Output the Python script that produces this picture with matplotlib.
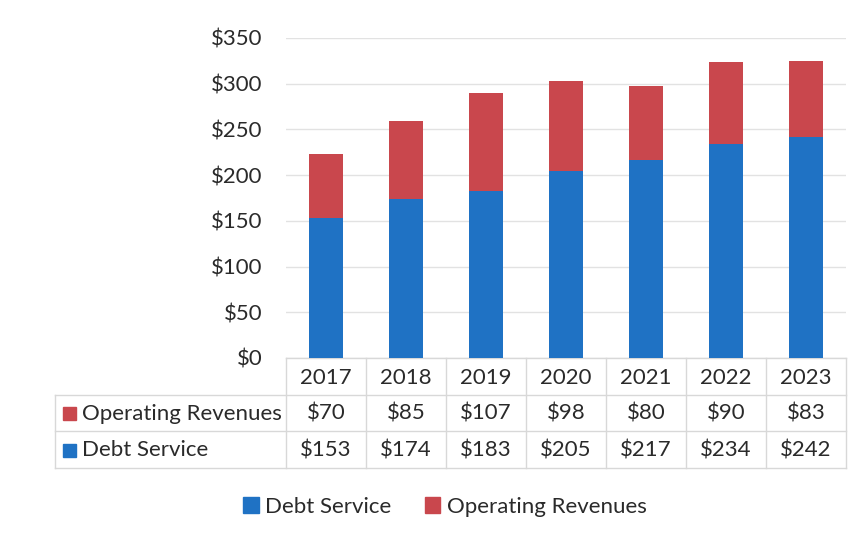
import matplotlib
matplotlib.use("Agg")
import matplotlib.pyplot as plt
from matplotlib.patches import Patch, Rectangle
import numpy as np

plt.rcParams['font.family'] = ['Lato', 'DejaVu Sans']

years = ['2017', '2018', '2019', '2020', '2021', '2022', '2023']
debt_service = [153, 174, 183, 205, 217, 234, 242]
operating_revenues = [70, 85, 107, 98, 80, 90, 83]
yticks = [0, 50, 100, 150, 200, 250, 300, 350]

blue = '#1f72c4'
red = '#c9474d'
grid_col = '#e2e2e2'
text_col = '#2a2a2a'
fs = 16

W, H = 862, 540
fig = plt.figure(figsize=(W / 100, H / 100), dpi=100)
left, right, top, bottom = 286, 846, 38, 358
ax = fig.add_axes([left / W, 1 - bottom / H, (right - left) / W, (bottom - top) / H])

x = np.arange(len(years))
ax.bar(x, debt_service, width=0.42, color=blue, zorder=3)
ax.bar(x, operating_revenues, width=0.42, bottom=debt_service, color=red, zorder=3)

ax.set_xlim(-0.5, len(years) - 0.5)
ax.set_ylim(0, 350)
ax.set_yticks(yticks)
ax.set_yticklabels(['$%d' % v for v in yticks], fontsize=fs, color=text_col)
ax.tick_params(axis='y', length=0, pad=17)
ax.set_xticks([])
ax.grid(axis='y', color=grid_col, lw=1, zorder=0)
for s in ax.spines.values():
    s.set_visible(False)

# data table under the plot (axes-fraction coords)
ph = bottom - top
pw = right - left
def fy(py):
    return (bottom - py) / ph
def fx(px):
    return (px - left) / pw

row_edges = [358, 395, 431, 468]
lab_left = 55
line_kw = dict(color='#d8d8d8', lw=1, transform=ax.transAxes, clip_on=False)
ax.plot([0, 1], [fy(358)] * 2, **line_kw)
for py in row_edges[1:]:
    ax.plot([fx(lab_left), 1], [fy(py)] * 2, **line_kw)
ax.plot([fx(lab_left)] * 2, [fy(395), fy(468)], **line_kw)
for i in range(len(years) + 1):
    ax.plot([i / len(years)] * 2, [fy(358), fy(468)], **line_kw)

rows = [(None, years), ('Operating Revenues', ['$%d' % v for v in operating_revenues]),
        ('Debt Service', ['$%d' % v for v in debt_service])]
row_colors = [None, red, blue]
for r, (label, vals) in enumerate(rows):
    yc = fy((row_edges[r] + row_edges[r + 1]) / 2 + 1)
    for i, v in enumerate(vals):
        ax.text((i + 0.5) / len(years), yc, v, transform=ax.transAxes, ha='center',
                va='center', fontsize=fs, color=text_col)
    if label:
        ax.add_patch(Rectangle((fx(63), yc - 6 / ph), 13 / pw, 13 / ph, transform=ax.transAxes,
                               color=row_colors[r], clip_on=False))
        ax.text(fx(82), yc, label, transform=ax.transAxes, ha='left', va='center',
                fontsize=fs, color=text_col)

handles = [Patch(color=blue, label='Debt Service'), Patch(color=red, label='Operating Revenues')]
fig.legend(handles=handles, loc='center', bbox_to_anchor=(445 / W, 1 - 507 / H), ncol=2,
           frameon=False, fontsize=fs, handlelength=0.7, handleheight=0.7,
           handletextpad=0.3, columnspacing=1.5, labelcolor=text_col)

fig.savefig('out.png', dpi=100)
